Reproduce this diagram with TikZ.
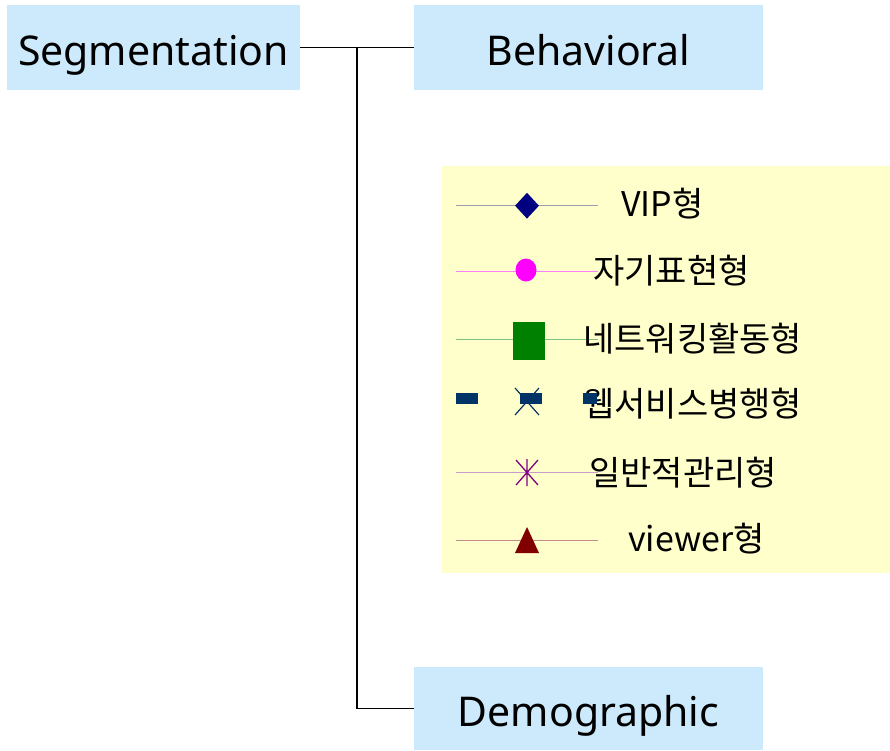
\documentclass[tikz,border=0pt]{standalone}
\usepackage{fontspec}
\usetikzlibrary{shapes.geometric}
\setmainfont{Noto Sans}
\newfontfamily\kfont{Noto Sans CJK KR}
\definecolor{boxblue}{HTML}{CCEAFC}
\definecolor{legy}{HTML}{FFFFCC}
\definecolor{mnavy}{HTML}{000080}
\definecolor{mmag}{HTML}{FF00FF}
\definecolor{mgreen}{HTML}{008000}
\definecolor{mdblue}{HTML}{003366}
\definecolor{mpurple}{HTML}{800080}
\definecolor{mred}{HTML}{800000}
\tikzset{
  catbox/.style={fill=boxblue, inner sep=0pt, text height=40pt, text depth=5pt, font=\fontsize{41}{50}\selectfont},
  conn/.style={draw=black, line width=1.3pt},
  legline/.style={line width=0.9pt},
  legtext/.style={anchor=base west, inner sep=0pt, font=\kfont\fontsize{34}{40}\selectfont}
}
\begin{document}
\begin{tikzpicture}[x=1pt,y=-1pt]
\useasboundingbox[fill=white] (0,0) rectangle (890,750);
\node[catbox, minimum width=293pt, minimum height=85pt] (seg) at (153.5,47.5) {Segmentation};
\node[catbox, minimum width=349pt, minimum height=85pt] (beh) at (588.5,47.5) {Behavioral};
\node[catbox, minimum width=349pt, minimum height=83pt] (demo) at (588.5,708.5) {Demographic};
\coordinate (junc) at (357,47.5);
\draw[conn] (seg.east) -- (beh.west);
\draw[conn] (junc) |- (demo.west);
% legend
\node[fill=legy, minimum width=448pt, minimum height=407pt, inner sep=0pt] (leg) at (666,369.5) {};
% row 1
\coordinate (a1) at (456,205.7); \coordinate (b1) at (598,205.7);
\draw[legline, mnavy!30!gray!60!white] (a1) -- (b1);
\node[fill=mnavy, diamond, inner sep=0pt, minimum width=24pt, minimum height=26pt] (m1) at (527,205.7) {};
\node[legtext] (t1) at (621,216) {VIP형};
% row 2
\coordinate (a2) at (456,271.7); \coordinate (b2) at (598,271.7);
\draw[legline, mmag!50!white] (a2) -- (b2);
\node[fill=mmag, ellipse, inner sep=0pt, minimum width=21pt, minimum height=23pt] (m2) at (526,270) {};
\node[legtext] (t2) at (593,283) {자기표현형};
% row 3
\coordinate (a3) at (456,339); \coordinate (b3) at (598,339);
\draw[legline, mgreen!50!white] (a3) -- (b3);
\node[fill=mgreen, inner sep=0pt, minimum width=32pt, minimum height=38pt] (m3) at (529,341) {};
\node[legtext] (t3) at (583,351) {네트워킹활동형};
% row 4
\node[legtext] (t4) at (583,416) {웹서비스병행형};
\node[fill=mdblue, inner sep=0pt, minimum width=22pt, minimum height=11pt] (d4a) at (467,398.5) {};
\node[fill=mdblue, inner sep=0pt, minimum width=22pt, minimum height=11pt] (m4) at (531,398.5) {};
\node[fill=mdblue, inner sep=0pt, minimum width=14pt, minimum height=11pt] (d4b) at (590,398.5) {};
\coordinate (x1) at (515,388); \coordinate (x2) at (539,415);
\coordinate (x3) at (539,388); \coordinate (x4) at (515,415);
\draw[mdblue, line width=1.2pt] (x1) -- (x2) (x3) -- (x4);
% row 5
\coordinate (a5) at (456,472.7); \coordinate (b5) at (598,472.7);
\draw[legline, mpurple!40!white] (a5) -- (b5);
\coordinate (s1) at (527,459); \coordinate (s2) at (527,486);
\coordinate (s3) at (516,460); \coordinate (s4) at (538,485);
\coordinate (s5) at (538,460); \coordinate (s6) at (516,485);
\draw[mpurple, line width=1.3pt] (s1) -- (s2) (s3) -- (s4) (s5) -- (s6);
\node[legtext] (t5) at (589,485) {일반적관리형};
% row 6
\coordinate (a6) at (456,540); \coordinate (b6) at (598,540);
\draw[legline, mred!45!white] (a6) -- (b6);
\coordinate (r1) at (527,527); \coordinate (r2) at (539,553); \coordinate (r3) at (515,553);
\fill[mred] (r1) -- (r2) -- (r3) -- cycle;
\node[legtext] (t6) at (628,551) {viewer형};
\end{tikzpicture}
\end{document}
